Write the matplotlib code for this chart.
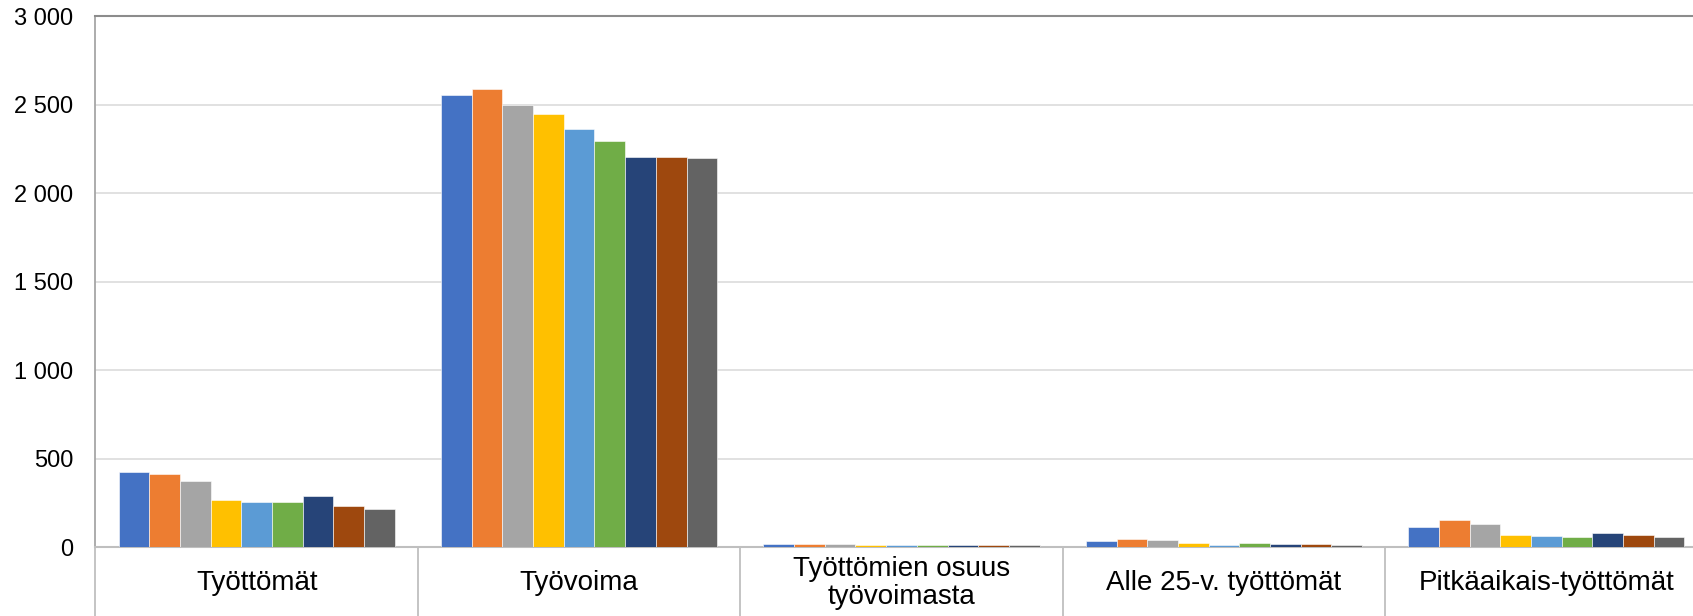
import matplotlib.pyplot as plt
import numpy as np

plt.rcParams['font.family'] = ['Liberation Sans', 'DejaVu Sans']

categories = ["Työttömät", "Työvoima", "Työttömien osuus\ntyövoimasta",
              "Alle 25-v. työttömät", "Pitkäaikais-työttömät"]

# one list per series (9 series, same order as the bars in each group)
s1 = [426, 2552, 16.6, 36, 112]
s2 = [413, 2590, 15.8, 45, 151]
s3 = [371, 2500, 14.8, 41, 132]
s4 = [268, 2447, 10.9, 24, 69]
s5 = [255, 2363, 10.8, 13, 63]
s6 = [255, 2294, 11.2, 20, 55]
s7 = [287, 2204, 12.9, 17, 78]
s8 = [230, 2204, 10.4, 19, 70]
s9 = [215, 2198, 9.7, 13, 57]
series = [s1, s2, s3, s4, s5, s6, s7, s8, s9]

colors = ["#4472C4", "#ED7D31", "#A5A5A5", "#FFC000", "#5B9BD5",
          "#70AD47", "#264478", "#9E480E", "#636363"]

fig = plt.figure(figsize=(16.93, 6.16), dpi=100)
ax = fig.add_axes([0.0564, 0.112, 1.0086 - 0.0564, 0.862])

x = np.arange(len(categories))
w = 0.0952
n = len(series)
for i, vals in enumerate(series):
    ax.bar(x + (i - (n - 1) / 2) * w, vals, width=w, color=colors[i],
           edgecolor="white", linewidth=0.4, zorder=3)

ax.set_xlim(-0.5, len(categories) - 0.5)
ax.set_ylim(0, 3000)
ax.set_yticks(np.arange(0, 3001, 500))
ax.set_yticklabels([f"{v:,}".replace(",", " ") for v in range(0, 3001, 500)])
ax.grid(axis="y", color="#d9d9d9", linewidth=1.1, zorder=0)

# category labels, vertically centred below axis
ax.set_xticks(x)
ax.set_xticklabels(categories)
ax.tick_params(axis="x", length=0, pad=26, labelsize=20)
for lab in ax.get_xticklabels():
    lab.set_verticalalignment("center")
    lab.set_linespacing(1.12)
# separators between categories reaching down to the bottom
ax.set_xticks(np.arange(-0.5, len(categories), 1.0), minor=True)
ax.tick_params(axis="x", which="minor", length=52, width=1.3, color="#bfbfbf")

ax.tick_params(axis="y", length=0, pad=16, labelsize=17)

ax.spines["right"].set_visible(False)
ax.spines["left"].set_color("#a6a6a6")
ax.spines["left"].set_linewidth(1.3)
ax.spines["top"].set_color("#8c8c8c")
ax.spines["top"].set_linewidth(1.5)
ax.spines["bottom"].set_color("#bfbfbf")
ax.spines["bottom"].set_linewidth(1.5)

plt.savefig("out.png", dpi=100)
